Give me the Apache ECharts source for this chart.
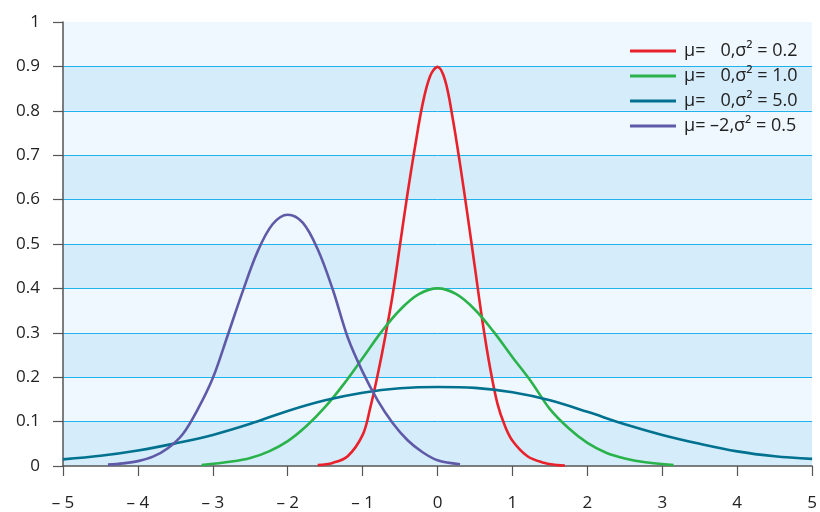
<!DOCTYPE html>
<html>
<head>
<meta charset="utf-8">
<script src="https://cdn.jsdelivr.net/npm/echarts@6/dist/echarts.min.js"></script>
<style>
  html, body { margin: 0; padding: 0; background: #fff; }
  #chart { width: 820px; height: 512px; }
</style>
</head>
<body>
<div id="chart"></div>
<script>
// 图例名称
var seriesNames = [
    'μ= \u20070,σ² = 0.2',
    'μ= \u20070,σ² = 1.0',
    'μ= \u20070,σ² = 5.0',
    'μ= –2,σ² = 0.5'
];

// 曲线数据 [x, y]
var redPoints = [
    [-1.6, 0.002], [-1.4, 0.007], [-1.2, 0.022], [-1.0, 0.07], [-0.9, 0.13],
    [-0.8, 0.205], [-0.7, 0.29], [-0.6, 0.385], [-0.5, 0.5], [-0.4, 0.615],
    [-0.3, 0.72], [-0.2, 0.815], [-0.1, 0.878], [0, 0.899], [0.1, 0.869],
    [0.2, 0.785], [0.3, 0.68], [0.4, 0.565], [0.5, 0.445], [0.6, 0.325],
    [0.7, 0.222], [0.8, 0.14], [0.9, 0.09], [1.0, 0.057], [1.2, 0.022],
    [1.4, 0.008], [1.6, 0.002], [1.7, 0.001]
];

var greenPoints = [
    [-3.15, 0.002], [-2.75, 0.01], [-2.5, 0.018], [-2.25, 0.033], [-2, 0.056],
    [-1.75, 0.09], [-1.5, 0.133], [-1.25, 0.185], [-1, 0.243], [-0.75, 0.302],
    [-0.5, 0.352], [-0.25, 0.387], [0, 0.4], [0.25, 0.387], [0.5, 0.352],
    [0.75, 0.302], [1, 0.245], [1.25, 0.19], [1.5, 0.128], [1.75, 0.085],
    [2, 0.052], [2.25, 0.03], [2.5, 0.017], [2.75, 0.009], [3.15, 0.002]
];

var tealPoints = [
    [-5, 0.015], [-4.5, 0.023], [-4, 0.035], [-3.5, 0.051], [-3, 0.07],
    [-2.5, 0.095], [-2, 0.124], [-1.5, 0.148], [-1, 0.165], [-0.5, 0.175],
    [0, 0.178], [0.5, 0.176], [1, 0.166], [1.5, 0.148], [2, 0.122],
    [2.5, 0.094], [3, 0.07], [3.5, 0.05], [4, 0.033], [4.5, 0.022], [5, 0.016]
];

var purplePoints = [
    [-4.4, 0.003], [-4.2, 0.006], [-4, 0.011], [-3.8, 0.021], [-3.6, 0.04],
    [-3.4, 0.072], [-3.2, 0.128], [-3, 0.198], [-2.8, 0.295], [-2.6, 0.394],
    [-2.4, 0.484], [-2.2, 0.545], [-2, 0.566], [-1.8, 0.548], [-1.6, 0.488],
    [-1.4, 0.398], [-1.2, 0.29], [-1.0, 0.212], [-0.8, 0.148], [-0.6, 0.097],
    [-0.4, 0.058], [-0.2, 0.031], [0, 0.013], [0.3, 0.004]
];

var lineColors = ['#e8212b', '#2ab24b', '#00728f', '#5f5aa8'];

var chartMain = document.getElementById('chart');
var mychart = echarts.init(chartMain);

function makeSeries(idx, points) {
    return {
        name: seriesNames[idx],
        type: 'line',
        data: points,
        smooth: 0.35,
        symbol: 'none',
        lineStyle: { color: lineColors[idx], width: 2.6 },
        itemStyle: { color: lineColors[idx] }
    };
}

var option = {
    animation: false,
    textStyle: { fontFamily: 'Open Sans' },
    grid: { left: 63, right: 5, top: 22, bottom: 46 },
    legend: {
        orient: 'vertical',
        left: 625,
        top: 36,
        icon: 'rect',
        itemWidth: 46,
        itemHeight: 3,
        itemGap: 5,
        textStyle: { fontSize: 18, color: '#222', lineHeight: 20, padding: [0, 0, 0, 3] },
        data: seriesNames
    },
    xAxis: {
        type: 'value',
        min: -5,
        max: 5,
        interval: 1,
        axisLine: { onZero: false, lineStyle: { color: '#555', width: 1.5 } },
        axisTick: { length: 10, lineStyle: { color: '#555', width: 1.2 } },
        axisLabel: {
            margin: 29,
            fontSize: 17,
            color: '#222',
            formatter: function (v) {
                return v < 0 ? '– ' + (-v) : String(v);
            }
        },
        splitLine: { show: false }
    },
    yAxis: {
        type: 'value',
        min: 0,
        max: 1,
        interval: 0.1,
        axisLine: { show: true, onZero: false, lineStyle: { color: '#555', width: 1.5 } },
        axisTick: { show: true, length: 10, lineStyle: { color: '#555', width: 1.2 } },
        axisLabel: {
            margin: 23,
            fontSize: 17,
            color: '#222',
            formatter: function (v) {
                return String(Math.round(v * 10) / 10);
            }
        },
        splitLine: {
            show: true,
            showMinLine: false,
            showMaxLine: false,
            lineStyle: { color: '#1fb2ec', width: 1 }
        },
        splitArea: {
            show: true,
            areaStyle: { color: ['#d5ecfa', '#eff8fe'] }
        }
    },
    series: [
        makeSeries(0, redPoints),
        makeSeries(1, greenPoints),
        makeSeries(2, tealPoints),
        makeSeries(3, purplePoints)
    ]
};

mychart.setOption(option);
</script>
</body>
</html>
